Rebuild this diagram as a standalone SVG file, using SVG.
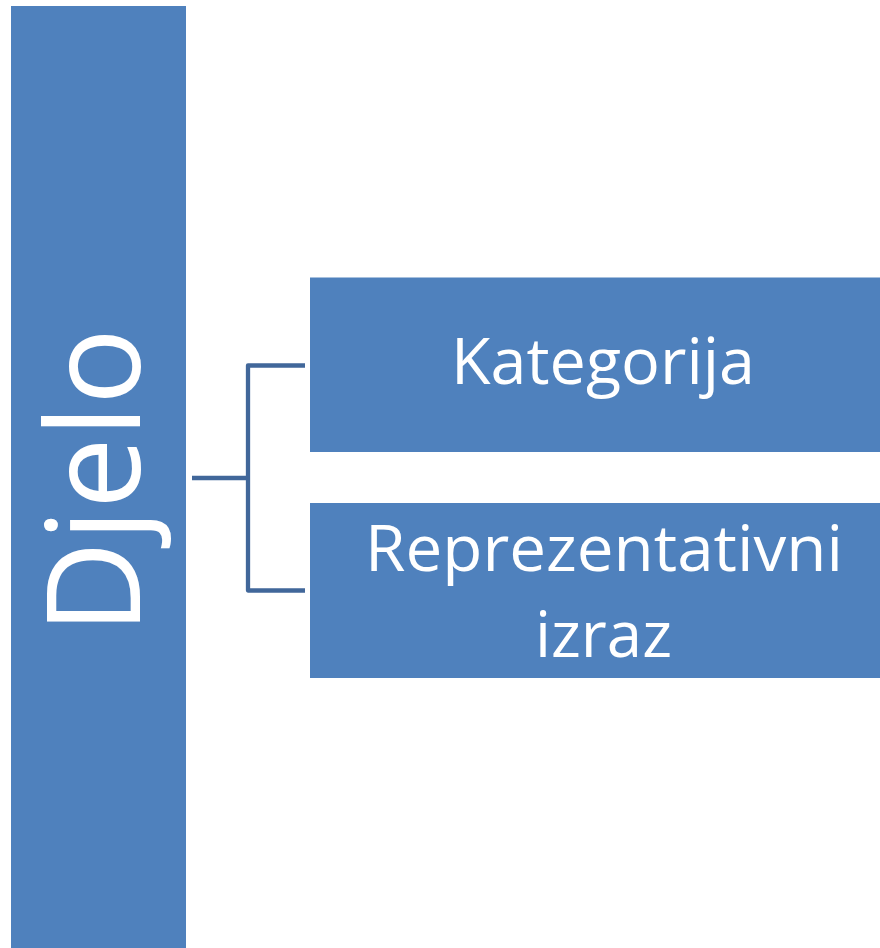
<svg xmlns="http://www.w3.org/2000/svg" width="880" height="948" viewBox="0 0 880 948">
<style>
.box{fill:#4f81bd}
.lbl{fill:#fff;font-family:"Open Sans","Noto Sans","Liberation Sans",sans-serif;text-anchor:middle}
.conn{fill:none;stroke:#41679a;stroke-width:4.3;stroke-linejoin:round}
</style>
<rect width="880" height="948" fill="#fff"/>
<g id="connectors">
<path class="conn" d="M192,478 H248"/>
<path class="conn" d="M305,365.5 H248 V590.5 H305"/>
</g>
<g id="djelo">
<rect class="box" x="11" y="6" width="175" height="942"/>
<text class="lbl" transform="translate(140,481) rotate(-90)" font-size="130" textLength="306" lengthAdjust="spacingAndGlyphs">Djelo</text>
</g>
<g id="kategorija">
<rect class="box" x="310" y="277.5" width="570" height="174.5"/>
<text class="lbl" x="603" y="384" font-size="64" textLength="304" lengthAdjust="spacingAndGlyphs">Kategorija</text>
</g>
<g id="reprezentativni">
<rect class="box" x="310" y="503" width="570" height="175"/>
<text class="lbl" x="604" y="571" font-size="64" textLength="478" lengthAdjust="spacingAndGlyphs">Reprezentativni</text>
<text class="lbl" x="603.5" y="657" font-size="64" textLength="137" lengthAdjust="spacingAndGlyphs">izraz</text>
</g>
</svg>
